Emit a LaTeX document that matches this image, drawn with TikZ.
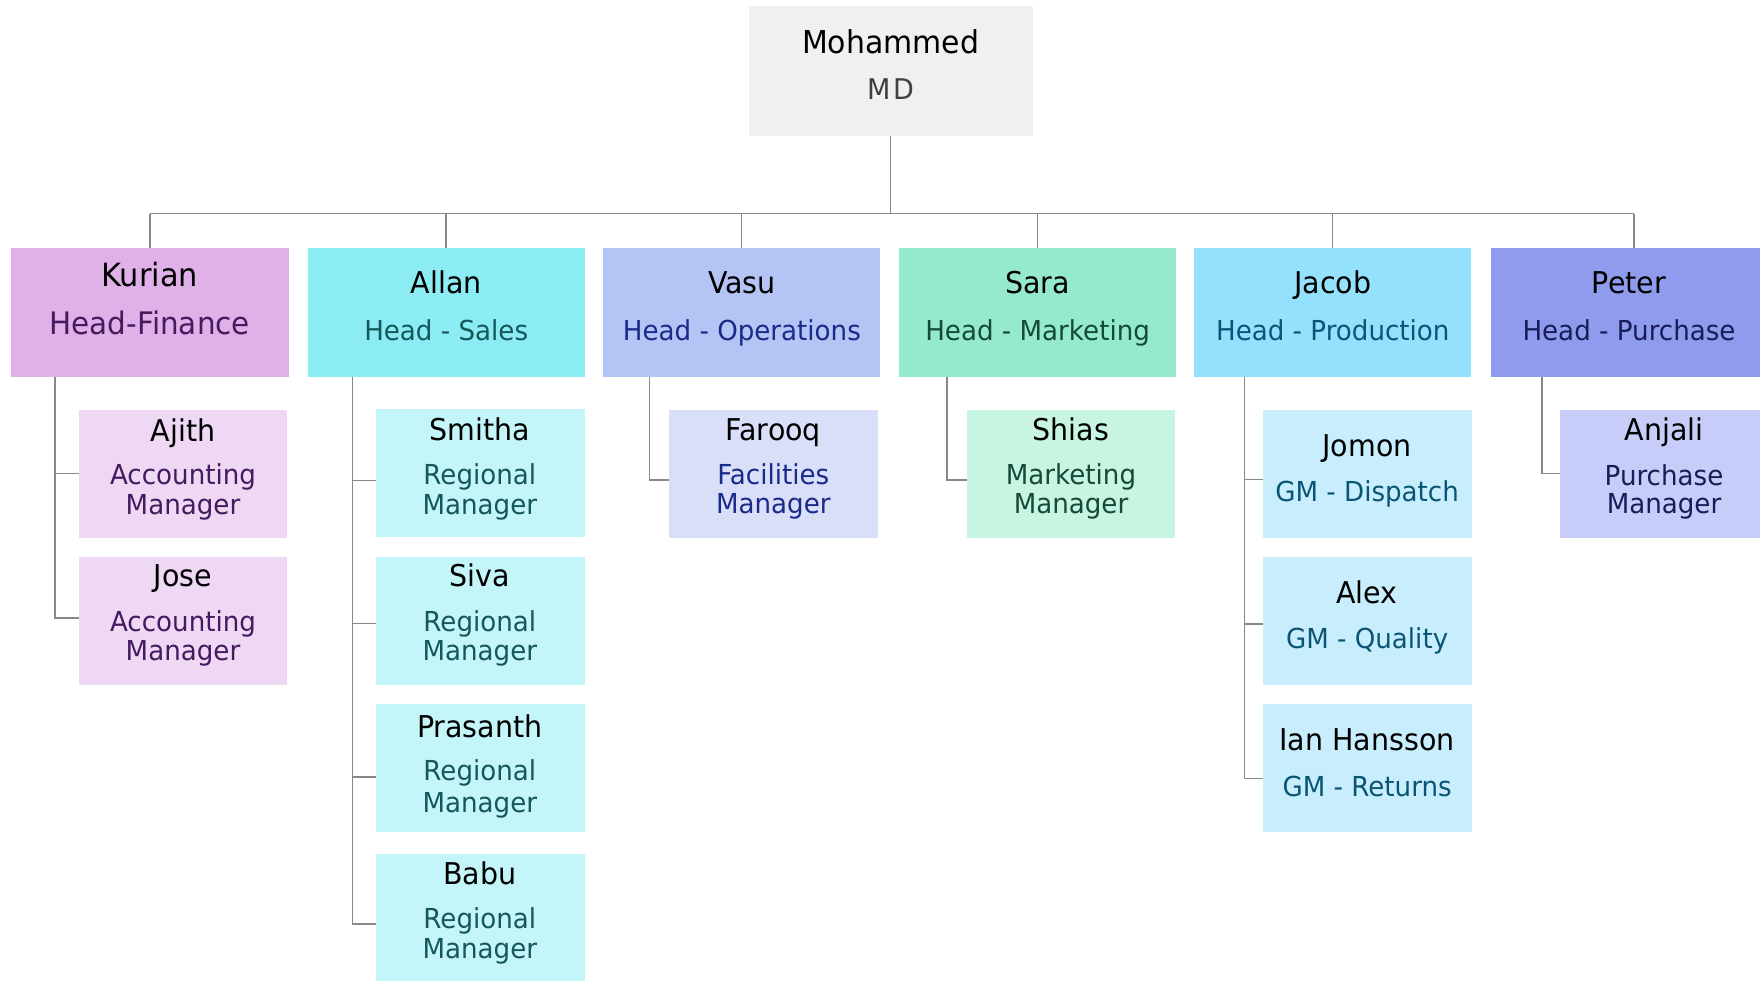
\documentclass[tikz,border=0pt]{standalone}
\usepackage{fontspec}
\setmainfont{DejaVu Sans}[FakeStretch=0.95]
\definecolor{lineC}{HTML}{888888}
\definecolor{mdF}{HTML}{F0F0F0}\definecolor{mdT}{HTML}{404040}
\definecolor{kF}{HTML}{E0B0E8}\definecolor{kC}{HTML}{EED8F4}\definecolor{kT}{HTML}{441A60}
\definecolor{aF}{HTML}{8CECF4}\definecolor{aC}{HTML}{C4F5F8}\definecolor{aT}{HTML}{14585C}
\definecolor{vF}{HTML}{B4C4F4}\definecolor{vC}{HTML}{DADFF9}\definecolor{vT}{HTML}{1A2A88}
\definecolor{sF}{HTML}{96EACC}\definecolor{sC}{HTML}{C8F4E2}\definecolor{sT}{HTML}{144A38}
\definecolor{jF}{HTML}{94E1FE}\definecolor{jC}{HTML}{C8EEFD}\definecolor{jT}{HTML}{0A5574}
\definecolor{pF}{HTML}{8F9CED}\definecolor{pC}{HTML}{C7CDF8}\definecolor{pT}{HTML}{181C58}
\begin{document}
\begin{tikzpicture}[x=1pt,y=-1pt,
  box/.style={draw=none, inner sep=0pt, outer sep=0pt, anchor=north west},
  headbox/.style={box, minimum width=277.3pt, minimum height=128.7pt},
  childbox/.style={box, minimum width=208.7pt, minimum height=128pt},
  nm/.style={anchor=base, inner sep=0pt, text=black, font=\fontsize{30}{36}\selectfont},
  rl/.style={anchor=base, inner sep=0pt, font=\fontsize{27.5}{33}\selectfont},
  conn/.style={draw=lineC, line width=1.5pt}]
\useasboundingbox (0,0) rectangle (1760,980);
% ---------- boxes
\node[box, fill=mdF, minimum width=284.1pt, minimum height=130.2pt] (md) at (748.6,5.6) {};
\node[headbox, fill=kF] (kurian) at (11.2,248) {};
\node[headbox, fill=aF] (allan) at (307.5,248) {};
\node[headbox, fill=vF] (vasu) at (602.7,248) {};
\node[headbox, fill=sF] (sara) at (899,248) {};
\node[headbox, fill=jF] (jacob) at (1194,248) {};
\node[headbox, fill=pF] (peter) at (1490.6,248) {};
\node[childbox, fill=kC] (ajith) at (78.6,409.7) {};
\node[childbox, fill=kC] (jose) at (78.6,556.7) {};
\node[childbox, fill=aC] (smitha) at (376,408.6) {};
\node[childbox, fill=aC] (siva) at (376,556.7) {};
\node[childbox, fill=aC] (prasanth) at (376,703.8) {};
\node[childbox, fill=aC] (babu) at (376,854) {};
\node[childbox, fill=vC] (farooq) at (669,409.7) {};
\node[childbox, fill=sC] (shias) at (966.5,409.7) {};
\node[childbox, fill=jC] (jomon) at (1262.8,409.7) {};
\node[childbox, fill=jC] (alex) at (1262.8,556.7) {};
\node[childbox, fill=jC] (ian) at (1262.8,703.8) {};
\node[childbox, fill=pC] (anjali) at (1560,409.7) {};
% ---------- texts
\node[nm, font=\fontsize{31.5}{36}\selectfont] (md-n) at (890.6,53.3) {Mohammed};
\node[rl, text=mdT, font=\fontsize{28.5}{33}\selectfont] (md-r) at (890.6,99) {M\kern3pt D};
\node[nm, font=\fontsize{32}{36}\selectfont] (kurian-n) at (149.8,286.7) {Kurian};
\node[rl, text=kT, font=\fontsize{31}{36}\selectfont] (kurian-r) at (149.8,334.3) {Head-Finance};
\node[nm] (allan-n) at (446.2,293.3) {Allan};
\node[rl, text=aT] (allan-r) at (446.2,340) {Head - Sales};
\node[nm] (vasu-n) at (741.9,293.3) {Vasu};
\node[rl, text=vT] (vasu-r) at (741.9,340) {Head - Operations};
\node[nm] (sara-n) at (1037.6,293.3) {Sara};
\node[rl, text=sT] (sara-r) at (1037.6,340) {Head - Marketing};
\node[nm] (jacob-n) at (1332.8,293.3) {Jacob};
\node[rl, text=jT] (jacob-r) at (1332.8,340) {Head - Production};
\node[nm] (peter-n) at (1629,293.3) {Peter};
\node[rl, text=pT] (peter-r) at (1629,340) {Head - Purchase};
% Kurian children
\node[nm] (ajith-n) at (183,441.2) {Ajith};
\node[rl, text=kT] (ajith-r1) at (183,484.1) {Accounting};
\node[rl, text=kT] (ajith-r2) at (183,514) {Manager};
\node[nm] (jose-n) at (183,586.7) {Jose};
\node[rl, text=kT] (jose-r1) at (183,631.8) {Accounting};
\node[rl, text=kT] (jose-r2) at (183,660.5) {Manager};
% Allan children
\node[nm] (smitha-n) at (479.8,440.5) {Smitha};
\node[rl, text=aT] (smitha-r1) at (479.8,484) {Regional};
\node[rl, text=aT] (smitha-r2) at (479.8,514) {Manager};
\node[nm] (siva-n) at (479.8,586.7) {Siva};
\node[rl, text=aT] (siva-r1) at (479.8,631.4) {Regional};
\node[rl, text=aT] (siva-r2) at (479.8,660.5) {Manager};
\node[nm] (prasanth-n) at (479.8,737) {Prasanth};
\node[rl, text=aT] (prasanth-r1) at (479.8,780) {Regional};
\node[rl, text=aT] (prasanth-r2) at (479.8,812.5) {Manager};
\node[nm] (babu-n) at (479.8,884) {Babu};
\node[rl, text=aT] (babu-r1) at (479.8,928.3) {Regional};
\node[rl, text=aT] (babu-r2) at (479.8,958.3) {Manager};
% Vasu / Sara children
\node[nm] (farooq-n) at (773.3,440) {Farooq};
\node[rl, text=vT] (farooq-r1) at (773.3,484) {Facilities};
\node[rl, text=vT] (farooq-r2) at (773.3,513.3) {Manager};
\node[nm] (shias-n) at (1071,440) {Shias};
\node[rl, text=sT] (shias-r1) at (1071,484) {Marketing};
\node[rl, text=sT] (shias-r2) at (1071,513.3) {Manager};
% Jacob children
\node[nm] (jomon-n) at (1367.1,456.7) {Jomon};
\node[rl, text=jT] (jomon-r) at (1367.1,501.7) {GM - Dispatch};
\node[nm] (alex-n) at (1367.1,603.3) {Alex};
\node[rl, text=jT] (alex-r) at (1367.1,648.3) {GM - Quality};
\node[nm] (ian-n) at (1367.1,750) {Ian Hansson};
\node[rl, text=jT] (ian-r) at (1367.1,796.7) {GM - Returns};
% Peter child
\node[nm] (anjali-n) at (1664,440) {Anjali};
\node[rl, text=pT] (anjali-r1) at (1664,485) {Purchase};
\node[rl, text=pT] (anjali-r2) at (1664,513.3) {Manager};
% ---------- connectors
\coordinate (bus) at (0,213.5);
\coordinate (peterTop) at ([xshift=4.7pt]peter.north);
\draw[conn] (md.south) -- (md.south |- bus);
\draw[conn] (kurian.north |- bus) -- (peterTop |- bus);
\foreach \h in {kurian,allan,vasu,sara,jacob}{\draw[conn] (\h.north) -- (\h.north |- bus);}
\draw[conn] (peterTop) -- (peterTop |- bus);
\coordinate (kurianT) at ([xshift=43.8pt]kurian.south west);
\coordinate (allanT) at ([xshift=45pt]allan.south west);
\coordinate (vasuT) at ([xshift=46.9pt]vasu.south west);
\coordinate (saraT) at ([xshift=48pt]sara.south west);
\coordinate (jacobT) at ([xshift=50.6pt]jacob.south west);
\coordinate (peterT) at ([xshift=51.2pt]peter.south west);
\draw[conn] (kurianT) |- (ajith.west);
\draw[conn] (kurianT) |- ([yshift=2.5pt]jose.west);
\draw[conn] (allanT) |- ([yshift=-7.7pt]smitha.west);
\draw[conn] (allanT) |- ([yshift=-3pt]siva.west);
\draw[conn] (allanT) |- ([yshift=-9pt]prasanth.west);
\draw[conn] (allanT) |- ([yshift=-6pt]babu.west);
\draw[conn] (vasuT) |- ([yshift=-6.4pt]farooq.west);
\draw[conn] (saraT) |- ([yshift=-6.4pt]shias.west);
\draw[conn] (jacobT) |- ([yshift=-6pt]jomon.west);
\draw[conn] (jacobT) |- ([yshift=-3.3pt]alex.west);
\draw[conn] (jacobT) |- ([yshift=-10.6pt]ian.west);
\draw[conn] (peterT) |- (anjali.west);
\end{tikzpicture}
\end{document}
